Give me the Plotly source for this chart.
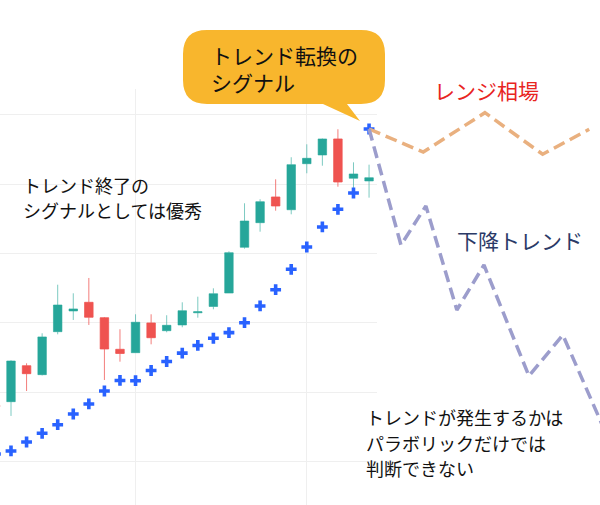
import plotly.graph_objects as go

# ---- data ----
idx = list(range(25))
opens = [108.15, 108.63, 113.82, 112.53, 118.73, 121.72, 122.97, 120.75, 116.19, 115.70,
         119.99, 118.87, 119.70, 121.46, 122.37, 124.31, 130.91, 134.46, 138.17, 136.33,
         142.97, 144.23, 146.54, 140.87, 140.48]
highs = [108.44, 114.60, 114.17, 118.50, 125.51, 124.27, 126.48, 120.85, 119.08, 121.24,
         121.24, 121.10, 122.97, 123.78, 124.99, 130.33, 137.26, 137.84, 140.72, 143.90,
         145.77, 146.61, 147.94, 143.17, 142.83]
lows = [107.43, 106.57, 110.17, 112.41, 118.35, 120.42, 119.70, 111.76, 114.40, 115.70,
        116.91, 118.64, 119.37, 120.75, 121.96, 124.31, 130.71, 133.16, 136.19, 135.67,
        141.59, 142.68, 139.65, 139.28, 138.07]
closes = [107.86, 114.50, 112.67, 117.97, 122.58, 122.01, 120.81, 116.23, 115.58, 120.09,
          117.86, 119.65, 121.76, 121.60, 124.21, 130.13, 134.70, 137.49, 136.87, 142.83,
          143.75, 146.54, 140.33, 141.49, 140.95]
sar = [101.08, 101.52, 102.81, 104.07, 105.31, 106.85, 108.30, 110.17, 111.69, 111.66,
       113.13, 114.43, 115.63, 116.74, 117.78, 118.59, 120.03, 122.44, 124.79, 127.73,
       130.95, 133.84, 136.39, 138.74, 147.98]

range_x = [24, 27.48, 31.44, 35.15, 38.14]
range_y = [147.98, 144.65, 150.33, 144.33, 147.94]
down_x = [24, 26.05, 27.65, 29.64, 31.38, 34.27, 36.45, 39.15]
down_y = [147.98, 131.24, 136.87, 121.86, 128.35, 112.34, 118.25, 104.40]

# ---- geometry ----
W, H = 600, 505
PLOT_TOP = 89
PLOT_RIGHT = 377
X0, X1 = 0.2935, 24.51
Y0, Y1 = 93.72, 153.75
x2_span = (X1 - X0) * W / PLOT_RIGHT

FONT = "Noto Sans CJK JP"

fig = go.Figure()
fig.add_trace(go.Candlestick(
    x=idx, open=opens, high=highs, low=lows, close=closes,
    increasing=dict(line=dict(color="rgba(38,166,154,0.6)", width=1), fillcolor="#26a69a"),
    decreasing=dict(line=dict(color="rgba(239,83,80,0.75)", width=1), fillcolor="#ef5350"),
    whiskerwidth=0, showlegend=False, hoverinfo="skip",
))
fig.add_trace(go.Scatter(
    x=idx, y=sar, mode="markers",
    marker=dict(symbol="cross", size=9, color="#2962ff", line=dict(width=0)),
    showlegend=False, hoverinfo="skip",
))
fig.add_trace(go.Scatter(
    x=range_x, y=range_y, mode="lines", xaxis="x2", yaxis="y2",
    line=dict(color="#e9b07f", width=3.5, dash="12px,6px"),
    showlegend=False, hoverinfo="skip",
))
fig.add_trace(go.Scatter(
    x=down_x, y=down_y, mode="lines", xaxis="x2", yaxis="y2",
    line=dict(color="#9c9dcc", width=3.5, dash="12px,6px"),
    showlegend=False, hoverinfo="skip",
))


def P(px, py):
    return px / W, 1 - py / H


def pt(px, py):
    x, y = P(px, py)
    return f"{x:.5f},{y:.5f}"


# speech bubble path (pixel based decoration)
bx0, bx1, by0, by1, r = 183, 385, 30, 104, 24
tail = [(347, 104), (360, 121), (323, 104)]
path = f"M {pt(bx0 + r, by0)} L {pt(bx1 - r, by0)} "
path += f"Q {pt(bx1, by0)} {pt(bx1, by0 + r)} L {pt(bx1, by1 - r)} "
path += f"Q {pt(bx1, by1)} {pt(bx1 - r, by1)} "
path += f"L {pt(*tail[0])} L {pt(*tail[1])} L {pt(*tail[2])} "
path += f"L {pt(bx0 + r, by1)} Q {pt(bx0, by1)} {pt(bx0, by1 - r)} "
path += f"L {pt(bx0, by0 + r)} Q {pt(bx0, by0)} {pt(bx0 + r, by0)} Z"

fig.add_shape(type="path", path=path, xref="paper", yref="paper",
              fillcolor="#f8b62d", line=dict(width=0), layer="above")

annots = []


def txt(s, px, py, size, color="#111111"):
    x, y = P(px, py)
    annots.append(dict(text=s, x=x, y=y, xref="paper", yref="paper",
                       xanchor="left", yanchor="middle", showarrow=False, align="left",
                       font=dict(family=FONT, size=size, color=color)))


txt("トレンド転換の<br>シグナル", 209, 68, 21)
txt("レンジ相場", 432, 90, 21, "#e8251f")
txt("下降トレンド", 455, 240, 21, "#2b3a67")
txt("トレンド終了の", 21, 185, 18)
txt("シグナルとしては優秀", 21, 210, 18)
txt("トレンドが発生するかは", 364, 417, 18)
txt("パラボリックだけでは", 364, 443, 18)
txt("判断できない", 364, 468, 18)

ydom = [0, (H - PLOT_TOP) / H]
fig.update_layout(
    width=W, height=H, margin=dict(l=0, r=0, t=0, b=0),
    paper_bgcolor="white", plot_bgcolor="rgba(0,0,0,0)",
    boxgap=0.22,
    annotations=annots,
    xaxis=dict(domain=[0, PLOT_RIGHT / W], range=[X0, X1], showgrid=True,
               gridcolor="#efefef", gridwidth=1, tickmode="linear", tick0=9, dtick=11,
               showticklabels=False, zeroline=False, showline=False, ticks="",
               rangeslider=dict(visible=False), fixedrange=True),
    yaxis=dict(domain=ydom, range=[Y0, Y1], showgrid=True, gridcolor="#efefef",
               gridwidth=1, tickmode="linear", tick0=100, dtick=10,
               showticklabels=False, zeroline=False, showline=False, ticks="",
               fixedrange=True),
    xaxis2=dict(domain=[0, 1], range=[X0, X0 + x2_span], anchor="y2", visible=False,
                fixedrange=True),
    yaxis2=dict(domain=ydom, range=[Y0, Y1], anchor="x2", visible=False, fixedrange=True),
)

fig.write_html(
    "out.html",
    config={"displayModeBar": False, "staticPlot": True},
    post_script="document.body.style.margin='0';document.body.style.padding='0';"
                "document.body.style.overflow='hidden';",
)
